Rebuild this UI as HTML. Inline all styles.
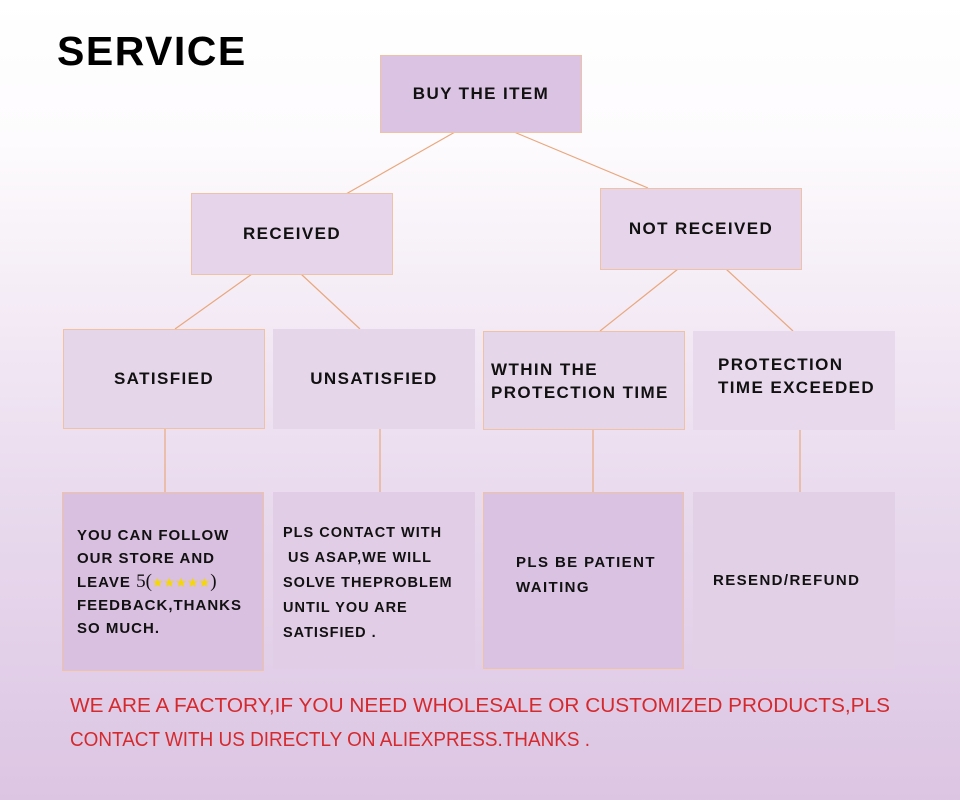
<!DOCTYPE html>
<html><head><meta charset="utf-8"><style>
body{margin:0;width:960px;height:800px;overflow:hidden;font-family:"Liberation Sans",sans-serif;}
#bg{position:absolute;left:0;top:0;width:960px;height:800px;background:linear-gradient(180deg,#ffffff 0%,#fdfbfd 18%,#f3eaf5 40%,#e8d9ed 65%,#dcc5e3 100%);}
.b{position:absolute;box-sizing:border-box;font-weight:bold;font-size:17px;color:#111;letter-spacing:1.4px;display:flex;align-items:center;}
.b>div{white-space:nowrap;}
.c{justify-content:center;text-align:center;}
.o{border:1px solid #efc2a6;}
</style></head><body>
<div id="bg"></div>
<div style="position:absolute;left:57px;top:28px;font-size:41px;font-weight:bold;color:#000;letter-spacing:1.5px;">SERVICE</div>
<svg style="position:absolute;left:0;top:0" width="960" height="800" stroke="#e9a87e" stroke-width="1.2">
<line x1="455" y1="132" x2="346" y2="194"/><line x1="514" y1="132" x2="648" y2="188"/>
<line x1="252" y1="274" x2="175" y2="329"/><line x1="301" y1="274" x2="360" y2="329"/>
<line x1="678" y1="269" x2="600" y2="331"/><line x1="726" y1="269" x2="793" y2="331"/>
<line x1="165" y1="428" x2="165" y2="492"/><line x1="380" y1="428" x2="380" y2="492"/>
<line x1="593" y1="429" x2="593" y2="492"/><line x1="800" y1="429" x2="800" y2="492"/>
</svg>
<div class="b c o" style="left:380px;top:55px;width:202px;height:78px;background:#dbc3e3;"><div>BUY THE ITEM</div></div>
<div class="b c o" style="left:191px;top:193px;width:202px;height:82px;background:#e6d5ea;"><div>RECEIVED</div></div>
<div class="b c o" style="left:600px;top:188px;width:202px;height:82px;background:#e6d5ea;"><div>NOT RECEIVED</div></div>
<div class="b c o" style="left:63px;top:329px;width:202px;height:100px;background:#e6d6ea;"><div>SATISFIED</div></div>
<div class="b c" style="left:273px;top:329px;width:202px;height:100px;background:#e6d6ea;"><div>UNSATISFIED</div></div>
<div class="b o" style="left:483px;top:331px;width:202px;height:99px;background:#e6d6ea;padding-left:7px;line-height:23px;"><div>WTHIN THE<br>PROTECTION TIME</div></div>
<div class="b" style="left:693px;top:331px;width:202px;height:99px;background:#e8daec;padding-left:25px;line-height:23px;align-items:flex-start;padding-top:22px;"><div>PROTECTION<br>TIME EXCEEDED</div></div>
<div class="b o" style="left:62px;top:492px;width:202px;height:179px;background:#d9bfe0;padding-left:14px;font-size:15px;line-height:23px;letter-spacing:1px;"><div>YOU CAN FOLLOW<br>OUR STORE AND<br>LEAVE <span style="font-weight:normal;font-family:'Liberation Serif',serif;font-size:19px;letter-spacing:0;">5(<span style="color:#f5d800;font-size:13px;">★★★★★</span>)</span><br>FEEDBACK,THANKS<br>SO MUCH.</div></div>
<div class="b" style="left:273px;top:492px;width:202px;height:177px;background:#e1cde6;padding-left:10px;font-size:14.5px;line-height:25px;align-items:flex-start;padding-top:29px;letter-spacing:1px;"><div>PLS CONTACT WITH<br>&nbsp;US ASAP,WE WILL<br>SOLVE THEPROBLEM<br>UNTIL YOU ARE<br>SATISFIED .</div></div>
<div class="b o" style="left:483px;top:492px;width:201px;height:177px;background:#dac3e2;padding-left:32px;font-size:15px;line-height:25px;align-items:flex-start;padding-top:57px;"><div>PLS BE PATIENT<br>WAITING</div></div>
<div class="b" style="left:693px;top:492px;width:202px;height:177px;background:#e2d0e7;padding-left:20px;font-size:15px;"><div>RESEND/REFUND</div></div>
<svg style="position:absolute;left:0;top:0" width="960" height="800">
<text x="70" y="712" font-family="Liberation Sans, sans-serif" font-size="20" fill="#d42a2e" textLength="820" lengthAdjust="spacingAndGlyphs">WE ARE A FACTORY,IF YOU NEED WHOLESALE OR CUSTOMIZED PRODUCTS,PLS</text>
<text x="70" y="746" font-family="Liberation Sans, sans-serif" font-size="20" fill="#d42a2e" textLength="520" lengthAdjust="spacingAndGlyphs">CONTACT WITH US DIRECTLY ON ALIEXPRESS.THANKS .</text>
</svg>
</body></html>
